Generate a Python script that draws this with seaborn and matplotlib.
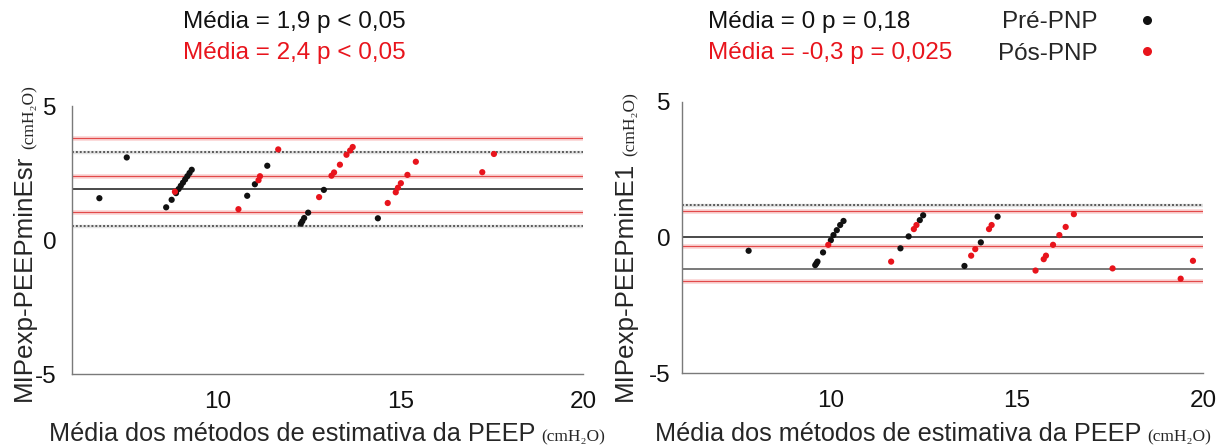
import matplotlib
matplotlib.use("Agg")
import matplotlib.pyplot as plt
import numpy as np
import pandas as pd
import seaborn as sns
from matplotlib.lines import Line2D

# ---- Panel A: MIPexp - PEEPminEsr -------------------------------------
esr_pre_x = [6.75, 7.50, 8.58, 8.73, 8.85, 8.92, 8.98, 9.04, 9.10, 9.16, 9.22, 9.28,
             10.80, 11.01, 11.35, 12.27, 12.31, 12.36, 12.47, 12.90, 14.38]
esr_pre_y = [1.56, 3.08, 1.22, 1.50, 1.75, 1.90, 2.02, 2.14, 2.26, 2.38, 2.50, 2.62,
             1.65, 2.08, 2.77, 0.61, 0.70, 0.82, 1.02, 1.87, 0.81]
esr_pos_x = [8.82, 10.56, 11.11, 11.15, 11.65, 12.77, 13.11, 13.18, 13.34, 13.52, 13.62, 13.69,
             14.65, 14.87, 14.93, 15.01, 15.19, 15.42, 17.24, 17.56]
esr_pos_y = [1.80, 1.15, 2.23, 2.38, 3.38, 1.60, 2.40, 2.52, 2.81, 3.18, 3.34, 3.47,
             1.38, 1.78, 1.95, 2.12, 2.43, 2.92, 2.53, 3.21]
esr_pre_mean, esr_pre_limits = 1.9, [0.52, 3.27]
esr_pos_mean, esr_pos_limits = 2.4, [1.05, 3.82]
esr_titles = ["Média = 1,9 p < 0,05", "Média = 2,4 p < 0,05"]

# ---- Panel B: MIPexp - PEEPminE1 --------------------------------------
e1_pre_x = [7.79, 9.58, 9.61, 9.64, 9.79, 10.00, 10.07, 10.16, 10.25, 10.34,
            11.87, 12.09, 12.39, 12.48, 13.59, 14.03, 14.48]
e1_pre_y = [-0.49, -1.02, -0.96, -0.89, -0.55, -0.10, 0.09, 0.27, 0.46, 0.61,
            -0.40, 0.04, 0.64, 0.82, -1.05, -0.18, 0.77]
e1_pos_x = [9.93, 11.62, 12.23, 12.30, 13.77, 13.88, 14.25, 14.32, 15.50, 15.72, 15.78,
            15.97, 16.14, 16.31, 16.53, 17.57, 19.40, 19.73]
e1_pos_y = [-0.27, -0.89, 0.31, 0.46, -0.67, -0.43, 0.31, 0.46, -1.22, -0.80, -0.67,
            -0.27, 0.09, 0.39, 0.86, -1.14, -1.52, -0.86]
e1_pre_mean, e1_pre_limits = 0.0, [-1.15, 1.20]
e1_pos_mean, e1_pos_limits = -0.3, [-1.60, 0.97]
e1_titles = ["Média = 0 p = 0,18", "Média = -0,3 p = 0,025"]

groups = ["Pré-PNP", "Pós-PNP"]
x_ticks = [10, 15, 20]
y_ticks = [-5, 0, 5]
x_label = "Média dos métodos de estimativa da PEEP"
unit_label = "(cmH\u2082O)"
y_labels = ["MIPexp-PEEPminEsr", "MIPexp-PEEPminE1"]

BLACK = "#111111"
RED = "#e8141c"
palette = {groups[0]: BLACK, groups[1]: RED}

sns.set_theme(style="white")
plt.rcParams["font.family"] = ["Liberation Sans", "DejaVu Sans"]
plt.rcParams["axes.unicode_minus"] = False
UNIT_FONT = ["Liberation Serif", "DejaVu Serif"]
FS = 17.5
LABEL_FS = 18.2
UNIT_FS = 12.5

W, H = 1217, 448
fig = plt.figure(figsize=(W / 100, H / 100), dpi=100)


def axes_px(left, top, right, bottom):
    return fig.add_axes([left / W, 1 - bottom / H, (right - left) / W, (bottom - top) / H])


ax1 = axes_px(72, 106, 583, 374)
ax2 = axes_px(682, 102, 1203, 373)


def frame(pre_x, pre_y, pos_x, pos_y):
    return pd.DataFrame({
        "x": list(pre_x) + list(pos_x),
        "y": list(pre_y) + list(pos_y),
        "fase": [groups[0]] * len(pre_x) + [groups[1]] * len(pos_x),
    })


def red_line(ax, v):
    ax.axhline(v, color="#fbd9d9", lw=3.5, zorder=1)
    ax.axhline(v, color="#e24a4a", lw=0.9, zorder=2)


def dotted_line(ax, v):
    ax.axhline(v, color="#e2e2e2", lw=2.5, zorder=1)
    ax.axhline(v, color="#5a5a5a", lw=1.4, ls=(0, (1.0, 1.0)), zorder=2)


def draw_panel(ax, data, pre_mean, pre_lim, pos_mean, pos_lim, lower_dotted=True, ytick_pad=10):
    red_line(ax, pos_mean)
    for v in pos_lim:
        red_line(ax, v)
    ax.axhline(pre_mean, color="#3a3a3a", lw=1.3, zorder=2)
    dotted_line(ax, pre_lim[1])
    if lower_dotted:
        dotted_line(ax, pre_lim[0])
    else:
        ax.axhline(pre_lim[0], color="#6e6e6e", lw=1.3, zorder=2)

    sns.scatterplot(data=data, x="x", y="y", hue="fase", palette=palette,
                    s=20, edgecolor="none", legend=False, ax=ax, zorder=3)

    ax.set_xlim(6, 20)
    ax.set_ylim(-5, 5)
    ax.set_xticks(x_ticks)
    ax.set_yticks(y_ticks)
    ax.set_xlabel("")
    ax.set_ylabel("")
    for side in ["top", "right"]:
        ax.spines[side].set_visible(False)
    for side in ["left", "bottom"]:
        ax.spines[side].set_color("#7a7a7a")
        ax.spines[side].set_linewidth(1.0)
    ax.tick_params(axis="both", direction="in", length=3, width=0.8, color="#7a7a7a",
                   labelsize=FS, labelcolor="#111111")
    ax.tick_params(axis="x", pad=12)
    ax.tick_params(axis="y", pad=ytick_pad)


draw_panel(ax1, frame(esr_pre_x, esr_pre_y, esr_pos_x, esr_pos_y),
           esr_pre_mean, esr_pre_limits, esr_pos_mean, esr_pos_limits, True, 11)
draw_panel(ax2, frame(e1_pre_x, e1_pre_y, e1_pos_x, e1_pos_y),
           e1_pre_mean, e1_pre_limits, e1_pos_mean, e1_pos_limits, False, 8)

# Statistic annotations above each panel
for x0, lines in [(183, esr_titles), (708, e1_titles)]:
    fig.text(x0 / W, 1 - 28 / H, lines[0], color=BLACK, fontsize=FS, va="baseline")
    fig.text(x0 / W, 1 - 59 / H, lines[1], color=RED, fontsize=FS, va="baseline")

# Legend
handles = [Line2D([], [], ls="none", marker="o", ms=6.5, mfc=palette[g], mec="none") for g in groups]
ax2.legend(handles, groups, loc="upper left", bbox_to_anchor=(998 / W, 1 - 11 / H),
           bbox_transform=fig.transFigure, frameon=False, markerfirst=False,
           fontsize=FS, handlelength=1.0, handletextpad=1.55, labelspacing=0.4,
           borderpad=0, borderaxespad=0)

renderer = fig.canvas.get_renderer()

# x labels: sans text followed by small serif unit, centred under each axes
for ax in (ax1, ax2):
    pos = ax.get_position()
    cx = (pos.x0 + pos.x1) / 2 * W
    t_main = fig.text(0, 1 - 441 / H, x_label, fontsize=LABEL_FS, va="baseline", ha="left")
    t_unit = fig.text(0, 1 - 441 / H, unit_label, fontsize=UNIT_FS, va="baseline", ha="left",
                      family=UNIT_FONT)
    w_main = t_main.get_window_extent(renderer).width
    w_unit = t_unit.get_window_extent(renderer).width
    gap = 6
    total = w_main + gap + w_unit
    start = min(cx - total / 2, W - 6 - total)
    t_main.set_x(start / W)
    t_unit.set_x((start + w_main + gap) / W)

# y labels: rotated sans text with the unit continuing above it
for label, xb in [(y_labels[0], 31), (y_labels[1], 632)]:
    t_main = fig.text(xb / W, 1 - 401 / H, label, fontsize=LABEL_FS + 0.5, rotation=90,
                      rotation_mode="anchor", ha="left", va="baseline")
    h_main = t_main.get_window_extent(renderer).height
    fig.text((xb + 3) / W, 1 - (401 - h_main - 6) / H, unit_label, fontsize=UNIT_FS,
             rotation=90, rotation_mode="anchor", ha="left", va="baseline", family=UNIT_FONT)

fig.savefig("out.png", dpi=100, facecolor="white")
